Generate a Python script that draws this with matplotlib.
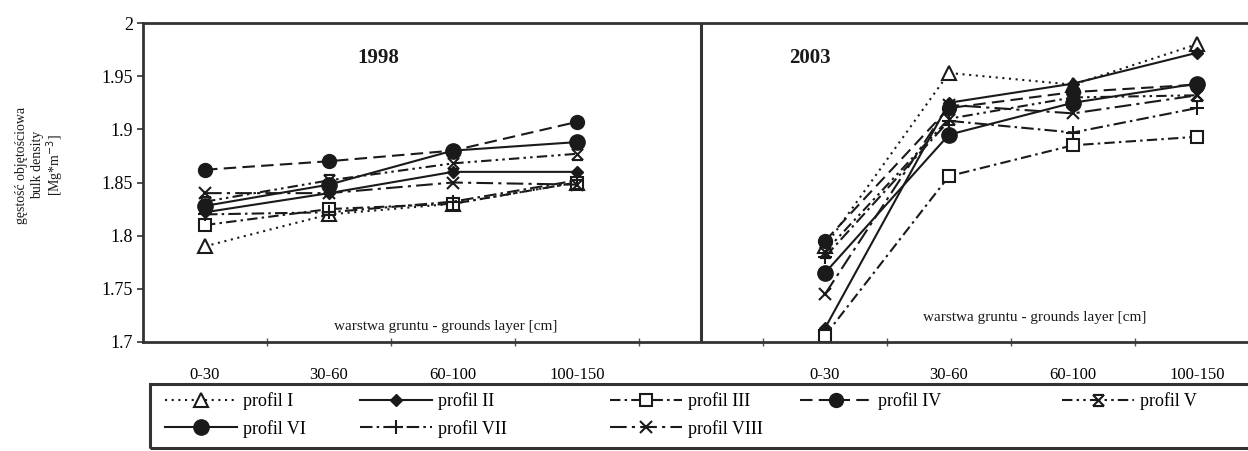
import numpy as np
import matplotlib
matplotlib.use("Agg")
import matplotlib.pyplot as plt
from matplotlib.path import Path
from matplotlib.patches import Rectangle

plt.rcParams['font.family'] = ['Liberation Serif', 'DejaVu Serif']

categories = ["0-30", "30-60", "60-100", "100-150"]
years = ["1998", "2003"]
series_names = ["profil I", "profil II", "profil III", "profil IV",
                "profil V", "profil VI", "profil VII", "profil VIII"]

# bulk density 1998
d1998_I    = [1.790, 1.820, 1.830, 1.850]
d1998_II   = [1.822, 1.840, 1.860, 1.860]
d1998_III  = [1.810, 1.825, 1.830, 1.850]
d1998_IV   = [1.862, 1.870, 1.880, 1.907]
d1998_V    = [1.832, 1.852, 1.868, 1.877]
d1998_VI   = [1.828, 1.848, 1.880, 1.888]
d1998_VII  = [1.820, 1.822, 1.832, 1.852]
d1998_VIII = [1.840, 1.840, 1.850, 1.848]

# bulk density 2003
d2003_I    = [1.790, 1.953, 1.942, 1.980]
d2003_II   = [1.713, 1.925, 1.943, 1.972]
d2003_III  = [1.706, 1.856, 1.885, 1.893]
d2003_IV   = [1.795, 1.920, 1.935, 1.942]
d2003_V    = [1.785, 1.910, 1.930, 1.932]
d2003_VI   = [1.765, 1.895, 1.925, 1.943]
d2003_VII  = [1.780, 1.908, 1.897, 1.920]
d2003_VIII = [1.745, 1.923, 1.915, 1.932]

data1998 = [d1998_I, d1998_II, d1998_III, d1998_IV, d1998_V, d1998_VI, d1998_VII, d1998_VIII]
data2003 = [d2003_I, d2003_II, d2003_III, d2003_IV, d2003_V, d2003_VI, d2003_VII, d2003_VIII]

yticks = [1.7, 1.75, 1.8, 1.85, 1.9, 1.95, 2.0]
ytick_labels = ["1.7", "1.75", "1.8", "1.85", "1.9", "1.95", "2"]

# hourglass-like star marker
hg = Path([(-1, -1), (1, 1), (-1, 1), (1, -1), (-1, 1), (1, 1), (-1, -1), (1, -1)],
          [Path.MOVETO, Path.LINETO, Path.MOVETO, Path.LINETO,
           Path.MOVETO, Path.LINETO, Path.MOVETO, Path.LINETO])

K = '#1a1a1a'
styles = [
    dict(ls=(0, (1, 2.2)), marker='^', ms=10, mfc='white', mec=K, mew=1.5),
    dict(ls='-', marker='D', ms=6, mfc=K, mec=K),
    dict(ls=(0, (5, 2, 1.2, 2)), marker='s', ms=9, mfc='white', mec=K, mew=1.5),
    dict(ls=(0, (6, 3)), marker='o', ms=10, mfc=K, mec=K),
    dict(ls=(0, (5, 2, 1.2, 2, 1.2, 2)), marker=hg, ms=8, mfc='none', mec=K, mew=1.5),
    dict(ls='-', marker='o', ms=11, mfc=K, mec=K),
    dict(ls=(0, (6, 2, 1.2, 2)), marker='+', ms=10, mfc=K, mec=K, mew=1.5),
    dict(ls=(0, (8, 2.5, 1.5, 2.5)), marker='x', ms=9, mfc=K, mec=K, mew=1.5),
]

fig = plt.figure(figsize=(12.48, 4.51), dpi=100)
W, H = 1248, 451
ax = fig.add_axes([143 / W, 1 - 342 / H, (1259 - 143) / W, (342 - 23) / H])

x1998 = np.arange(len(categories))
x2003 = np.arange(len(categories)) + len(categories) + 1

handles = []
for name, d98, d03, st in zip(series_names, data1998, data2003, styles):
    h, = ax.plot(x1998, d98, color=K, lw=1.5, label=name, **st)
    ax.plot(x2003, d03, color=K, lw=1.5, **st)
    handles.append(h)

ax.set_xlim(-0.5, 8.5)
ax.set_ylim(1.7, 2.0)
ax.axvline(len(categories), color='#333333', lw=2.2)

ax.set_yticks(yticks)
ax.set_yticklabels(ytick_labels, fontsize=13)
ax.tick_params(axis='y', direction='out', length=4, width=1.2, color='#333333', pad=3)

xt = list(x1998) + list(x2003)
ax.set_xticks(xt)
ax.set_xticklabels(categories * 2, fontsize=12)
ax.set_xticks(np.arange(0.5, 8.5, 1.0), minor=True)
ax.tick_params(axis='x', which='major', length=0, pad=18)
ax.tick_params(axis='x', which='minor', length=6, direction='inout', width=1, color='#555555')

for s in ['left', 'top', 'bottom']:
    ax.spines[s].set_linewidth(2)
    ax.spines[s].set_color('#333333')
ax.spines['right'].set_visible(False)

ax.text(1.4, 1.967, years[0], fontsize=15, fontweight='bold', ha='center', va='center', color=K)
ax.text(4.88, 1.967, years[1], fontsize=15, fontweight='bold', ha='center', va='center', color=K)
ax.text(1.94, 1.715, "warstwa gruntu - grounds layer [cm]", fontsize=11, ha='center', va='center', color=K)
ax.text(6.69, 1.723, "warstwa gruntu - grounds layer [cm]", fontsize=11, ha='center', va='center', color=K)

# y label (three rotated lines)
fig.text(22 / W, 1 - 165 / H, "gęstość objętościowa", rotation=90, fontsize=10, ha='center', va='center', color=K)
fig.text(38 / W, 1 - 165 / H, "bulk density", rotation=90, fontsize=10, ha='center', va='center', color=K)
fig.text(55 / W, 1 - 165 / H, "[Mg*m$^{-3}$]", rotation=90, fontsize=10, ha='center', va='center', color=K)

# legend frame
fig.patches.append(Rectangle((150 / W, 1 - 448 / H), (1260 - 150) / W, (448 - 384) / H,
                             transform=fig.transFigure, fill=False, lw=2.2, ec='#333333'))

cols = [([0, 5], 165), ([1, 6], 360), ([2, 7], 610), ([3], 800), ([4], 1062)]
for idx, xpix in cols:
    fig.legend([handles[i] for i in idx], [series_names[i] for i in idx],
               loc='upper left', bbox_to_anchor=(xpix / W, 1 - 392 / H),
               frameon=False, fontsize=13, handlelength=4.0, handletextpad=0.3,
               borderpad=0, borderaxespad=0, labelspacing=0.55)

fig.savefig("out.png", dpi=100, facecolor='white')
